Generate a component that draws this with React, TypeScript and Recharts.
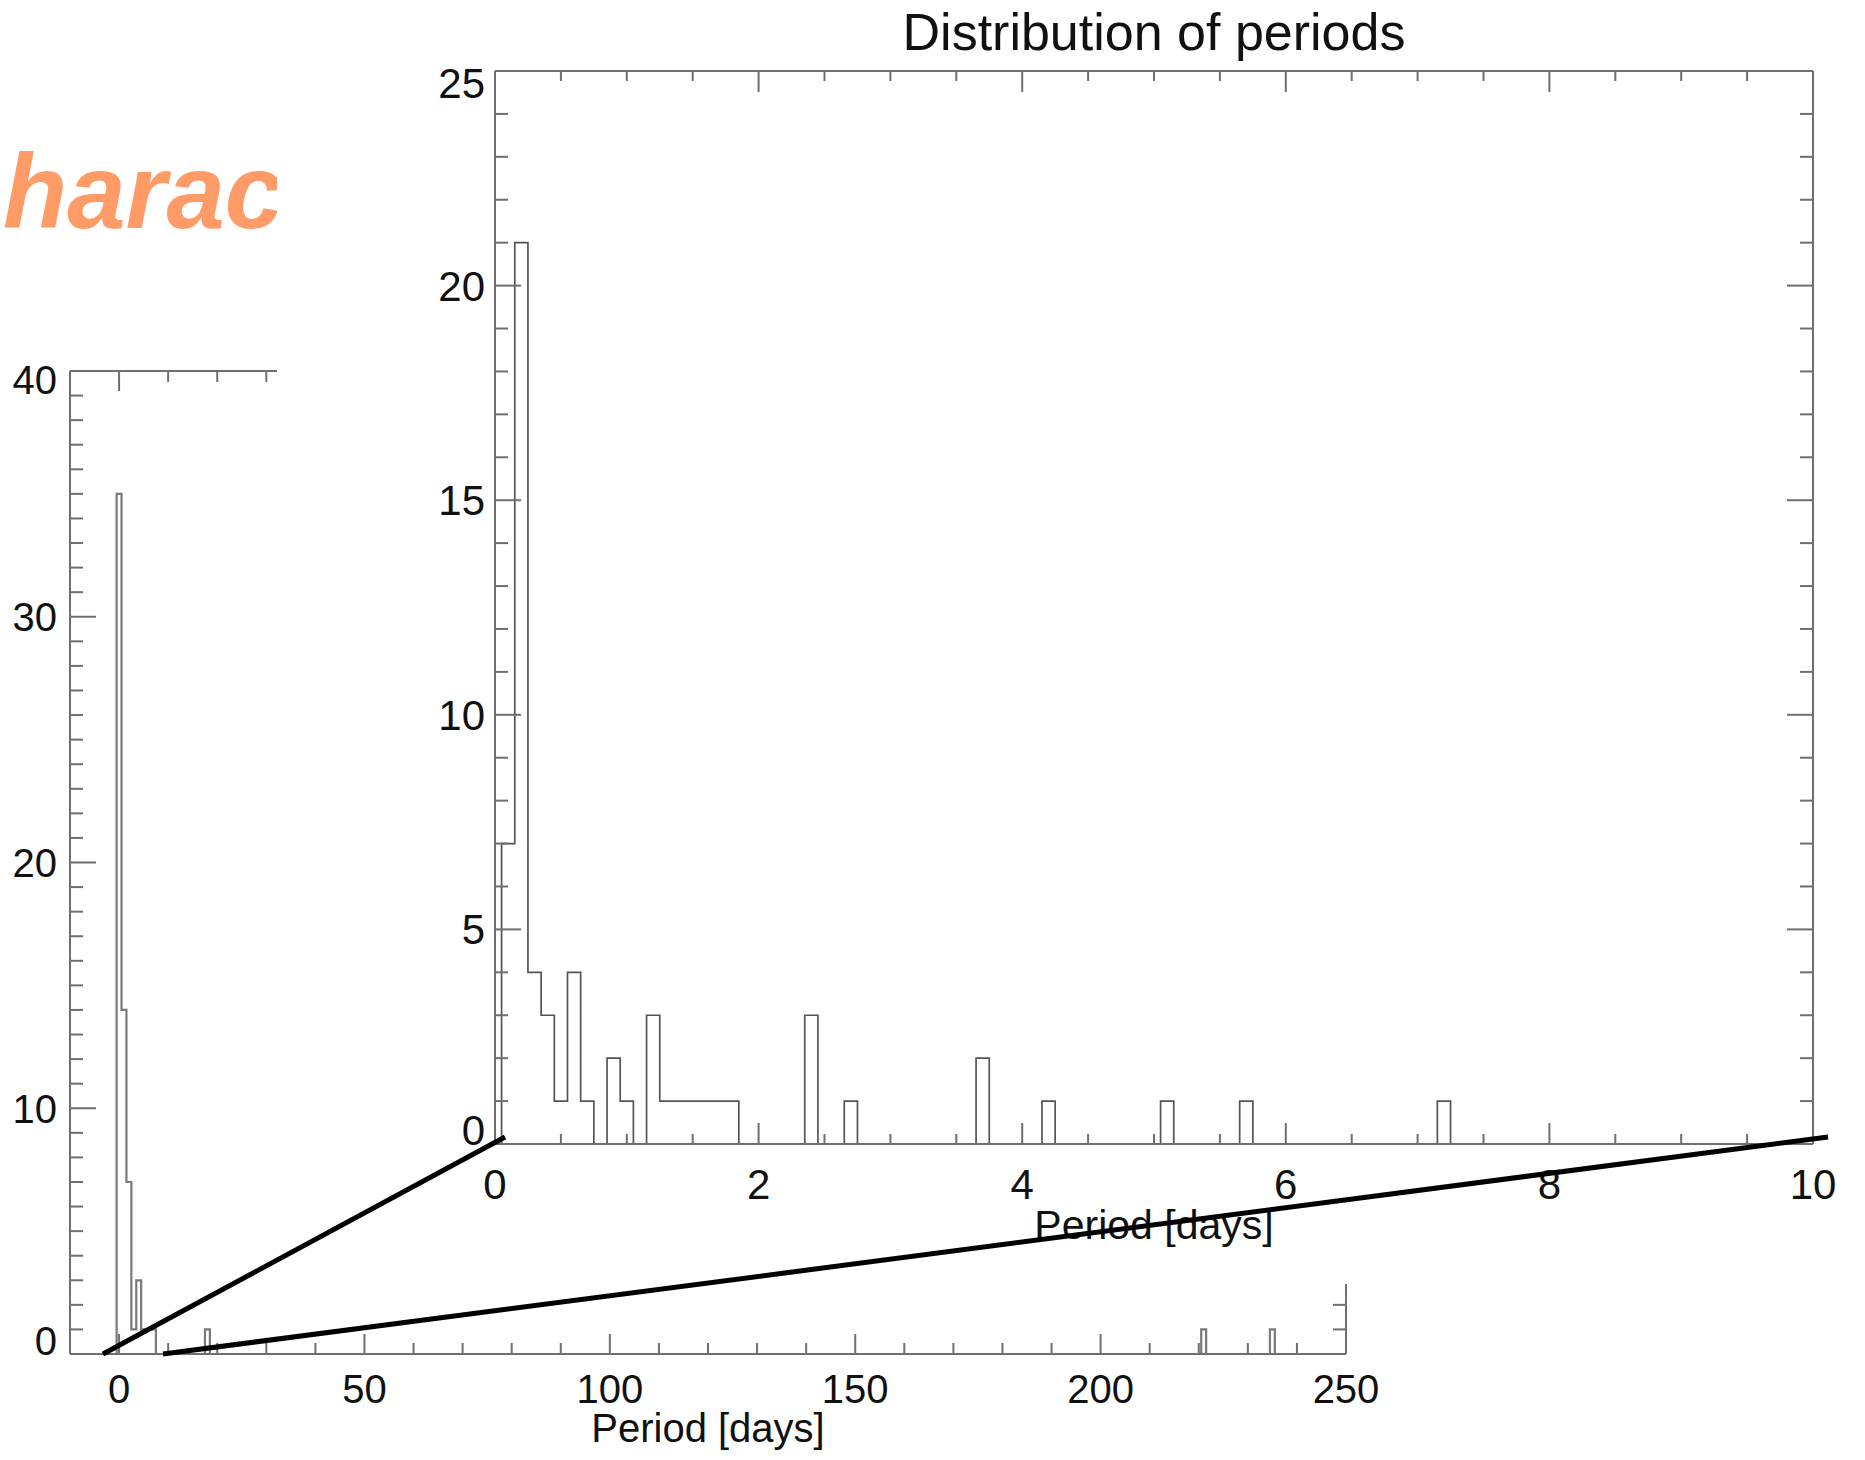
import { Line, LineChart, XAxis, YAxis } from 'recharts';

// full range histogram: 1-day bins, listed by bin centre (zeros only where an edge is needed)
const fullBinCenters = [-1, 0, 1, 2, 3, 4, 5, 6, 7, 8, 17, 18, 19, 220, 221, 222, 234, 235, 236];
const fullCounts = [0, 35, 14, 7, 1, 3, 1, 1, 1, 0, 0, 1, 0, 0, 1, 0, 0, 1, 0];

// zoom on the first ten days: 0.1-day bins
const insetBinCenters = [
  0, 0.1, 0.2, 0.3, 0.4, 0.5, 0.6, 0.7, 0.8, 0.9, 1.0, 1.1, 1.2, 1.3, 1.4, 1.5, 1.6, 1.7, 1.8, 1.9,
  2.3, 2.4, 2.5, 2.6, 2.7, 2.8, 3.6, 3.7, 3.8, 4.1, 4.2, 4.3, 5.0, 5.1, 5.2, 5.6, 5.7, 5.8, 7.1, 7.2, 7.3, 10,
];
const insetCounts = [
  0, 7, 21, 4, 3, 1, 4, 1, 0, 2, 1, 0, 3, 1, 1, 1, 1, 1, 1, 0,
  0, 3, 0, 0, 1, 0, 0, 2, 0, 0, 1, 0, 0, 1, 0, 0, 1, 0, 0, 1, 0, 0,
];

const fullXTicks = [0, 10, 20, 30, 40, 50, 60, 70, 80, 90, 100, 110, 120, 130, 140, 150, 160, 170, 180, 190, 200, 210, 220, 230, 240, 250];
const fullXLabels = [0, 50, 100, 150, 200, 250];
const fullYTicks = [
  0, 1, 2, 3, 4, 5, 6, 7, 8, 9, 10, 11, 12, 13, 14, 15, 16, 17, 18, 19, 20,
  21, 22, 23, 24, 25, 26, 27, 28, 29, 30, 31, 32, 33, 34, 35, 36, 37, 38, 39, 40,
];
const fullYLabels = [0, 10, 20, 30, 40];

const insetXTicks = [0, 0.5, 1, 1.5, 2, 2.5, 3, 3.5, 4, 4.5, 5, 5.5, 6, 6.5, 7, 7.5, 8, 8.5, 9, 9.5, 10];
const insetXLabels = [0, 2, 4, 6, 8, 10];
const insetYTicks = [0, 1, 2, 3, 4, 5, 6, 7, 8, 9, 10, 11, 12, 13, 14, 15, 16, 17, 18, 19, 20, 21, 22, 23, 24, 25];
const insetYLabels = [0, 5, 10, 15, 20, 25];

const axisTitle = 'Period [days]';
const insetTitle = 'Distribution of periods';
// only this part of the slide heading is left uncovered by the inset
const slideHeading = 'harac';

const FONT = '"Liberation Sans", Arial, Helvetica, sans-serif';
const AXIS_COLOR = '#6f6f6f';
const INK = '#111111';

const fullData = fullBinCenters.map((period, i) => ({ period, count: fullCounts[i] }));
const insetData = insetBinCenters.map((period, i) => ({ period, count: insetCounts[i] }));

type Side = 'bottom' | 'top' | 'left' | 'right';

interface TickStyle {
  side: Side;
  majors: number[];
  majorLen: number;
  minorLen: number;
  labels?: number[];
  fontSize?: number;
  gap?: number;
  shift?: Record<number, number>;
}

// IDL-style ticks: drawn inward from the axis, labels only on the majors
function AxisTick({ x, y, payload, style }: { x: number; y: number; payload: { value: number }; style: TickStyle }) {
  const v = payload.value;
  const len = style.majors.includes(v) ? style.majorLen : style.minorLen;
  const dx = style.side === 'left' ? len : style.side === 'right' ? -len : 0;
  const dy = style.side === 'bottom' ? -len : style.side === 'top' ? len : 0;
  const fs = style.fontSize ?? 40;

  let label = null;
  if (style.labels && style.labels.includes(v)) {
    if (style.side === 'bottom') {
      label = (
        <text x={x} y={y + (style.gap ?? 0)} textAnchor="middle" fontFamily={FONT} fontSize={fs} fill={INK}>
          {v}
        </text>
      );
    } else if (style.side === 'left') {
      label = (
        <text
          x={x - (style.gap ?? 0)}
          y={y + fs * 0.358 + (style.shift?.[v] ?? 0)}
          textAnchor="end"
          fontFamily={FONT}
          fontSize={fs}
          fill={INK}
        >
          {v}
        </text>
      );
    }
  }

  return (
    <g>
      <line x1={x} y1={y} x2={x + dx} y2={y + dy} stroke={AXIS_COLOR} strokeWidth={2} />
      {label}
    </g>
  );
}

const tickOf = (style: TickStyle) => (props: any) => <AxisTick {...props} style={style} />;

const titleBelow = (baseline: number, fontSize: number) => (props: any) => {
  const vb = props.viewBox ?? {};
  return (
    <text x={vb.x + vb.width / 2} y={vb.y + baseline} textAnchor="middle" fontFamily={FONT} fontSize={fontSize} fill={INK}>
      {axisTitle}
    </text>
  );
};

const axisLine = { stroke: AXIS_COLOR, strokeWidth: 2 };

function FullRangeChart() {
  const xMinor = { majors: fullXLabels, majorLen: 20, minorLen: 11 };
  const yMinor = { majors: fullYLabels, majorLen: 26, minorLen: 13 };
  return (
    <LineChart width={1400} height={1460} data={fullData} margin={{ top: 0, right: 0, bottom: 0, left: 0 }}>
      <XAxis
        xAxisId="bottom"
        type="number"
        dataKey="period"
        domain={[-10, 250]}
        allowDataOverflow
        ticks={fullXTicks}
        interval={0}
        height={106}
        tickSize={0}
        tickMargin={0}
        tickLine={false}
        axisLine={axisLine}
        tick={tickOf({ side: 'bottom', ...xMinor, labels: fullXLabels, fontSize: 40, gap: 49 })}
        label={titleBelow(88, 40)}
      />
      <XAxis
        xAxisId="top"
        orientation="top"
        type="number"
        dataKey="period"
        domain={[-10, 250]}
        allowDataOverflow
        ticks={fullXTicks}
        interval={0}
        height={371}
        tickSize={0}
        tickMargin={0}
        tickLine={false}
        axisLine={axisLine}
        tick={tickOf({ side: 'top', ...xMinor })}
      />
      <YAxis
        yAxisId="left"
        type="number"
        domain={[0, 40]}
        allowDataOverflow
        ticks={fullYTicks}
        interval={0}
        width={70}
        tickSize={0}
        tickMargin={0}
        tickLine={false}
        axisLine={axisLine}
        tick={tickOf({ side: 'left', ...yMinor, labels: fullYLabels, fontSize: 40, gap: 13, shift: { 0: -13, 40: 9 } })}
      />
      <YAxis
        yAxisId="right"
        orientation="right"
        type="number"
        domain={[0, 40]}
        allowDataOverflow
        ticks={fullYTicks}
        interval={0}
        width={54}
        tickSize={0}
        tickMargin={0}
        tickLine={false}
        axisLine={axisLine}
        tick={tickOf({ side: 'right', ...yMinor })}
      />
      <Line
        xAxisId="bottom"
        yAxisId="left"
        type="step"
        dataKey="count"
        stroke="#7a7a7a"
        strokeWidth={2.2}
        dot={false}
        activeDot={false}
        isAnimationActive={false}
      />
      <Line
        xAxisId="top"
        yAxisId="right"
        type="step"
        dataKey="count"
        stroke="none"
        dot={false}
        activeDot={false}
        isAnimationActive={false}
      />
    </LineChart>
  );
}

function InsetChart() {
  const xMinor = { majors: insetXLabels, majorLen: 21, minorLen: 10 };
  const yMinor = { majors: insetYLabels, majorLen: 26, minorLen: 13 };
  return (
    <LineChart width={1588} height={1284} data={insetData} margin={{ top: 0, right: 0, bottom: 0, left: 0 }}>
      <XAxis
        xAxisId="bottom"
        type="number"
        dataKey="period"
        domain={[0, 10]}
        allowDataOverflow
        ticks={insetXTicks}
        interval={0}
        height={140}
        tickSize={0}
        tickMargin={0}
        tickLine={false}
        axisLine={axisLine}
        tick={tickOf({ side: 'bottom', ...xMinor, labels: insetXLabels, fontSize: 42, gap: 55 })}
        label={titleBelow(95, 41)}
      />
      <XAxis
        xAxisId="top"
        orientation="top"
        type="number"
        dataKey="period"
        domain={[0, 10]}
        allowDataOverflow
        ticks={insetXTicks}
        interval={0}
        height={71}
        tickSize={0}
        tickMargin={0}
        tickLine={false}
        axisLine={axisLine}
        tick={tickOf({ side: 'top', ...xMinor })}
      />
      <YAxis
        yAxisId="left"
        type="number"
        domain={[0, 25]}
        allowDataOverflow
        ticks={insetYTicks}
        interval={0}
        width={218}
        tickSize={0}
        tickMargin={0}
        tickLine={false}
        axisLine={axisLine}
        tick={tickOf({ side: 'left', ...yMinor, labels: insetYLabels, fontSize: 42, gap: 10, shift: { 0: -14, 25: 12 } })}
      />
      <YAxis
        yAxisId="right"
        orientation="right"
        type="number"
        domain={[0, 25]}
        allowDataOverflow
        ticks={insetYTicks}
        interval={0}
        width={52}
        tickSize={0}
        tickMargin={0}
        tickLine={false}
        axisLine={axisLine}
        tick={tickOf({ side: 'right', ...yMinor })}
      />
      <Line
        xAxisId="bottom"
        yAxisId="left"
        type="step"
        dataKey="count"
        stroke="#555555"
        strokeWidth={1.7}
        dot={false}
        activeDot={false}
        isAnimationActive={false}
      />
      <Line
        xAxisId="top"
        yAxisId="right"
        type="step"
        dataKey="count"
        stroke="none"
        dot={false}
        activeDot={false}
        isAnimationActive={false}
      />
    </LineChart>
  );
}

export default function App() {
  return (
    <div style={{ position: 'absolute', left: 0, top: 0, width: 1865, height: 1460, background: '#fff', overflow: 'hidden' }}>
      <div style={{ position: 'absolute', left: 0, top: 0 }}>
        <FullRangeChart />
      </div>

      <svg style={{ position: 'absolute', left: 0, top: 0 }} width={290} height={300}>
        <text x={3} y={228} fontFamily={FONT} fontSize={105} fontWeight="bold" fontStyle="italic" fill="#ff9b66">
          {slideHeading}
        </text>
      </svg>

      <div style={{ position: 'absolute', left: 277, top: 0, width: 1588, height: 1284, background: '#fff' }}>
        <InsetChart />
      </div>

      {/* title and zoom connector lines */}
      <svg style={{ position: 'absolute', left: 0, top: 0, pointerEvents: 'none' }} width={1865} height={1460}>
        <text x={1154} y={50} textAnchor="middle" fontFamily={FONT} fontSize={52} fill={INK}>
          {insetTitle}
        </text>
        <line x1={103} y1={1354} x2={505} y2={1137} stroke="#000" strokeWidth={5} />
        <line x1={163} y1={1354} x2={1828} y2={1137} stroke="#000" strokeWidth={5} />
      </svg>
    </div>
  );
}
